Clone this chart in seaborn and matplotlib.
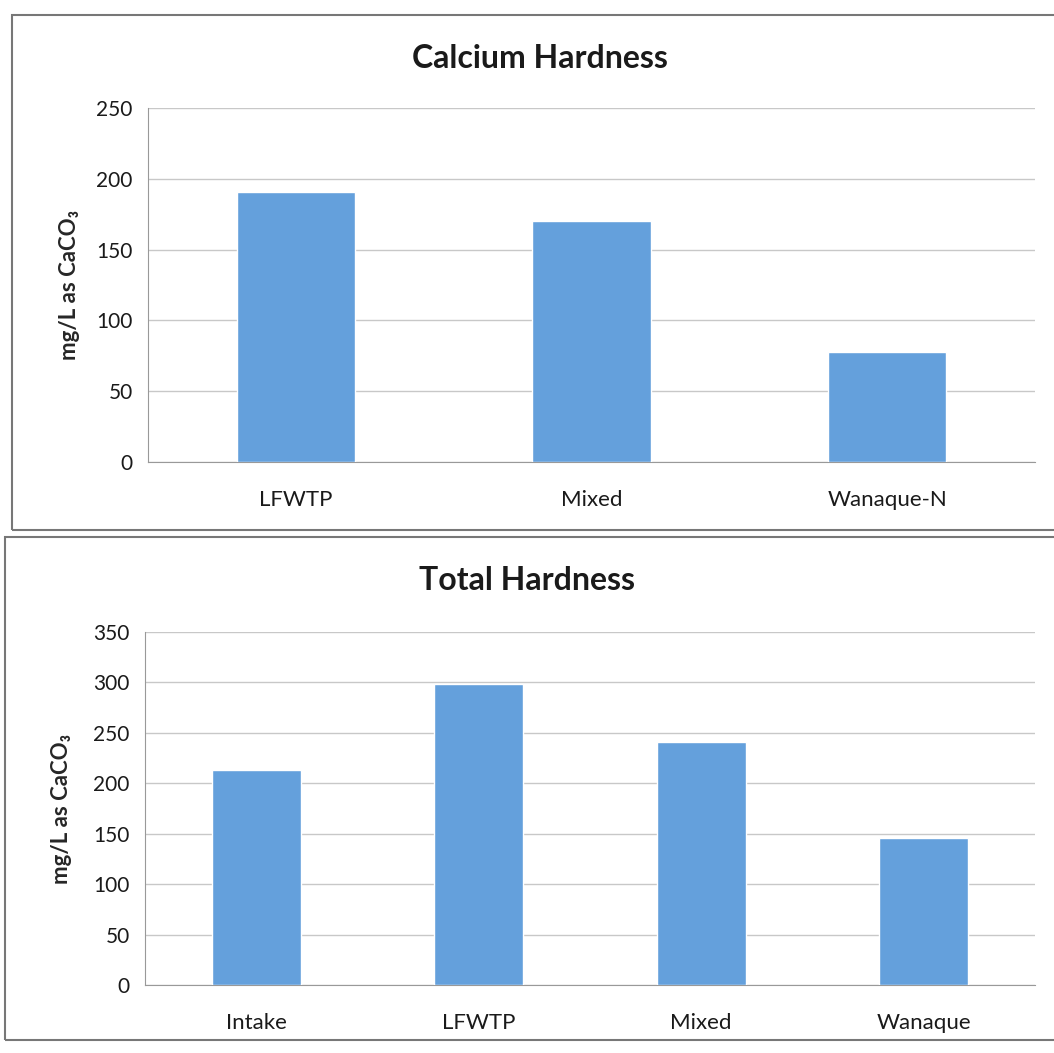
import matplotlib
matplotlib.use("Agg")
import matplotlib.pyplot as plt
from matplotlib.patches import Rectangle
import seaborn as sns
import pandas as pd

# values
calcium_sites = ["LFWTP", "Mixed", "Wanaque-N"]
calcium_values = [191, 170, 78]

total_sites = ["Intake", "LFWTP", "Mixed", "Wanaque"]
total_values = [213, 298, 241, 146]

bar_color = "#64A0DC"
grid_color = "#c8c8c8"

sns.set_style("white")
plt.rcParams["font.family"] = ["Lato", "DejaVu Sans"]

fig = plt.figure(figsize=(10.54, 10.53), dpi=100)

# frame boxes around each chart, like the pasted Excel charts
fig.patches.append(Rectangle((12 / 1054, 1 - 530 / 1053), 1.0, (530 - 15) / 1053,
                             transform=fig.transFigure, fill=False,
                             edgecolor="#777777", lw=1.5))
fig.patches.append(Rectangle((5 / 1054, 1 - 1040 / 1053), 1.0, (1040 - 537) / 1053,
                             transform=fig.transFigure, fill=False,
                             edgecolor="#777777", lw=1.5))


def draw(ax, sites, values, ymax, title, tx, ty, ylab_x):
    df = pd.DataFrame({"site": sites, "value": values})
    sns.barplot(data=df, x="site", y="value", color=bar_color, width=0.4,
                saturation=1, ax=ax, zorder=3)
    ax.set_ylim(0, ymax)
    ax.set_xlim(-0.5, len(sites) - 0.5)
    ax.set_yticks(range(0, ymax + 1, 50))
    ax.yaxis.grid(True, color=grid_color, lw=1)
    ax.set_axisbelow(True)
    for s in ["top", "right"]:
        ax.spines[s].set_visible(False)
    for s in ["left", "bottom"]:
        ax.spines[s].set_color("#999999")
    ax.tick_params(axis="y", length=5, color="#999999", labelsize=15, pad=6,
                   labelcolor="#1a1a1a")
    ax.tick_params(axis="x", which="major", length=0, labelsize=16, pad=20,
                   labelcolor="#1a1a1a")
    ax.set_xticks([i - 0.5 for i in range(len(sites) + 1)], minor=True)
    ax.tick_params(axis="x", which="minor", length=6, color="#999999")
    ax.set_xlabel("")
    ax.set_ylabel("mg/L as CaCO₃", fontsize=16, fontweight="bold")
    ax.yaxis.set_label_coords(ylab_x, 0.5)
    fig.text(tx, ty, title, ha="center", va="center", fontsize=23,
             fontweight="bold", color="#1a1a1a")


ax1 = fig.add_axes([148 / 1054, 1 - 462 / 1053, (1035 - 148) / 1054, (462 - 108) / 1053])
draw(ax1, calcium_sites, calcium_values, 250, "Calcium Hardness",
     540 / 1054, 1 - 58 / 1053, -0.077)

ax2 = fig.add_axes([145 / 1054, 1 - 985 / 1053, (1035 - 145) / 1054, (985 - 632) / 1053])
draw(ax2, total_sites, total_values, 350, "Total Hardness",
     527 / 1054, 1 - 580 / 1053, -0.082)

fig.savefig("out.png", dpi=100)
